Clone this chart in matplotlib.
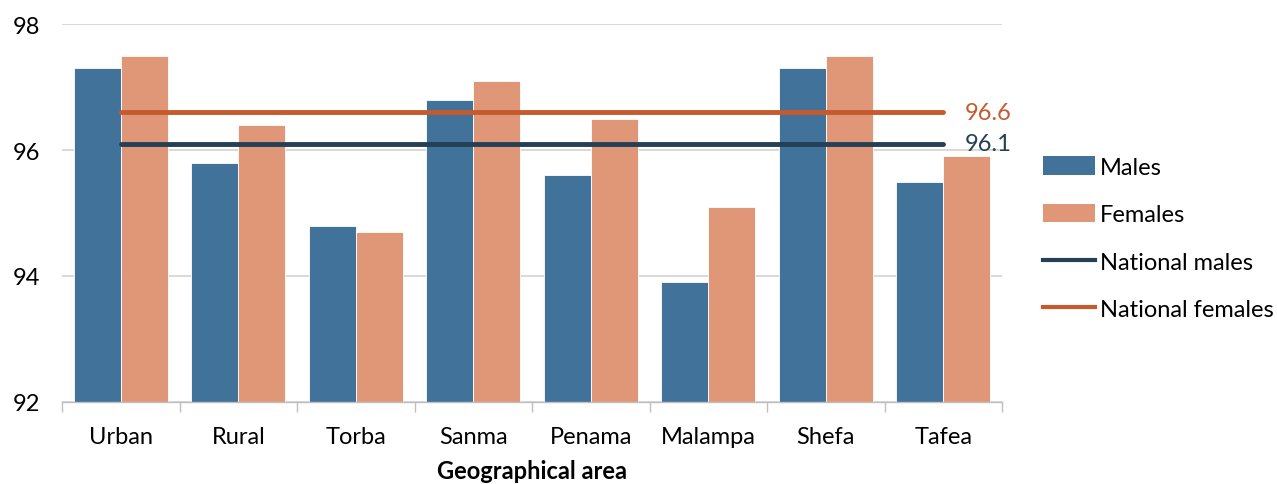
import matplotlib
matplotlib.use("Agg")
import matplotlib.pyplot as plt
from matplotlib.patches import Patch
from matplotlib.lines import Line2D
import numpy as np

areas = ["Urban", "Rural", "Torba", "Sanma", "Penama", "Malampa", "Shefa", "Tafea"]
males = [97.3, 95.8, 94.8, 96.8, 95.6, 93.9, 97.3, 95.5]
females = [97.5, 96.4, 94.7, 97.1, 96.5, 95.1, 97.5, 95.9]
national_males = 96.1
national_females = 96.6
y_ticks = [92, 94, 96, 98]

c_male = "#41739A"
c_female = "#E09777"
c_nat_male = "#243F56"
c_nat_female = "#C55A2E"

plt.rcParams["font.family"] = ["Lato", "DejaVu Sans"]
FS = 17

fig = plt.figure(figsize=(12.77, 4.85), dpi=100)
W, H = 1277, 485
ax = fig.add_axes([62 / W, (H - 403) / H, (1002 - 62) / W, (403 - 25) / H])

x = np.arange(len(areas))
bw = 0.4
ax.bar(x - bw / 2, np.array(males) - 92, bw, bottom=92, color=c_male,
       edgecolor="white", linewidth=0.6, zorder=2)
ax.bar(x + bw / 2, np.array(females) - 92, bw, bottom=92, color=c_female,
       edgecolor="white", linewidth=0.6, zorder=2)

ax.plot([x[0], x[-1]], [national_females] * 2, color=c_nat_female, lw=3.5,
        solid_capstyle="round", zorder=3)
ax.plot([x[0], x[-1]], [national_males] * 2, color=c_nat_male, lw=3.5,
        solid_capstyle="round", zorder=3)
ax.text(x[-1] + 0.18, national_females, f"{national_females:.1f}", color=c_nat_female,
        fontsize=FS, va="center", ha="left", zorder=4)
ax.text(x[-1] + 0.18, national_males, f"{national_males:.1f}", color=c_nat_male,
        fontsize=FS, va="center", ha="left", zorder=4)

ax.set_xlim(-0.5, len(areas) - 0.5)
ax.set_ylim(92, 98)
ax.set_yticks(y_ticks)
ax.set_yticklabels([str(v) for v in y_ticks], fontsize=FS)
ax.yaxis.grid(True, color="#D3D3D3", lw=1.2, zorder=0)
ax.set_axisbelow(True)
ax.tick_params(axis="y", length=0, pad=16)

ax.set_xticks(x)
ax.set_xticklabels(areas, fontsize=FS)
ax.set_xticks(np.arange(len(areas) + 1) - 0.5, minor=True)
ax.tick_params(axis="x", which="major", length=0, pad=17)
ax.tick_params(axis="x", which="minor", length=7, color="#BFBFBF", width=1)
ax.set_xlabel("Geographical area", fontsize=FS, fontweight="bold", labelpad=9)

for s in ["left", "right", "top"]:
    ax.spines[s].set_visible(False)
ax.spines["bottom"].set_color("#BFBFBF")
ax.spines["bottom"].set_linewidth(1)

handles = [
    Patch(facecolor=c_male, edgecolor="none", label="Males"),
    Patch(facecolor=c_female, edgecolor="none", label="Females"),
    Line2D([0], [0], color=c_nat_male, lw=3, label="National males"),
    Line2D([0], [0], color=c_nat_female, lw=3, label="National females"),
]
fig.legend(handles=handles, loc="upper left", bbox_to_anchor=(1043 / W, 1 - 157 / H),
           frameon=False, fontsize=FS, handlelength=2.2, handleheight=0.85,
           handletextpad=0.2, labelspacing=1.1, borderpad=0, borderaxespad=0)

fig.savefig("out.png", dpi=100)
